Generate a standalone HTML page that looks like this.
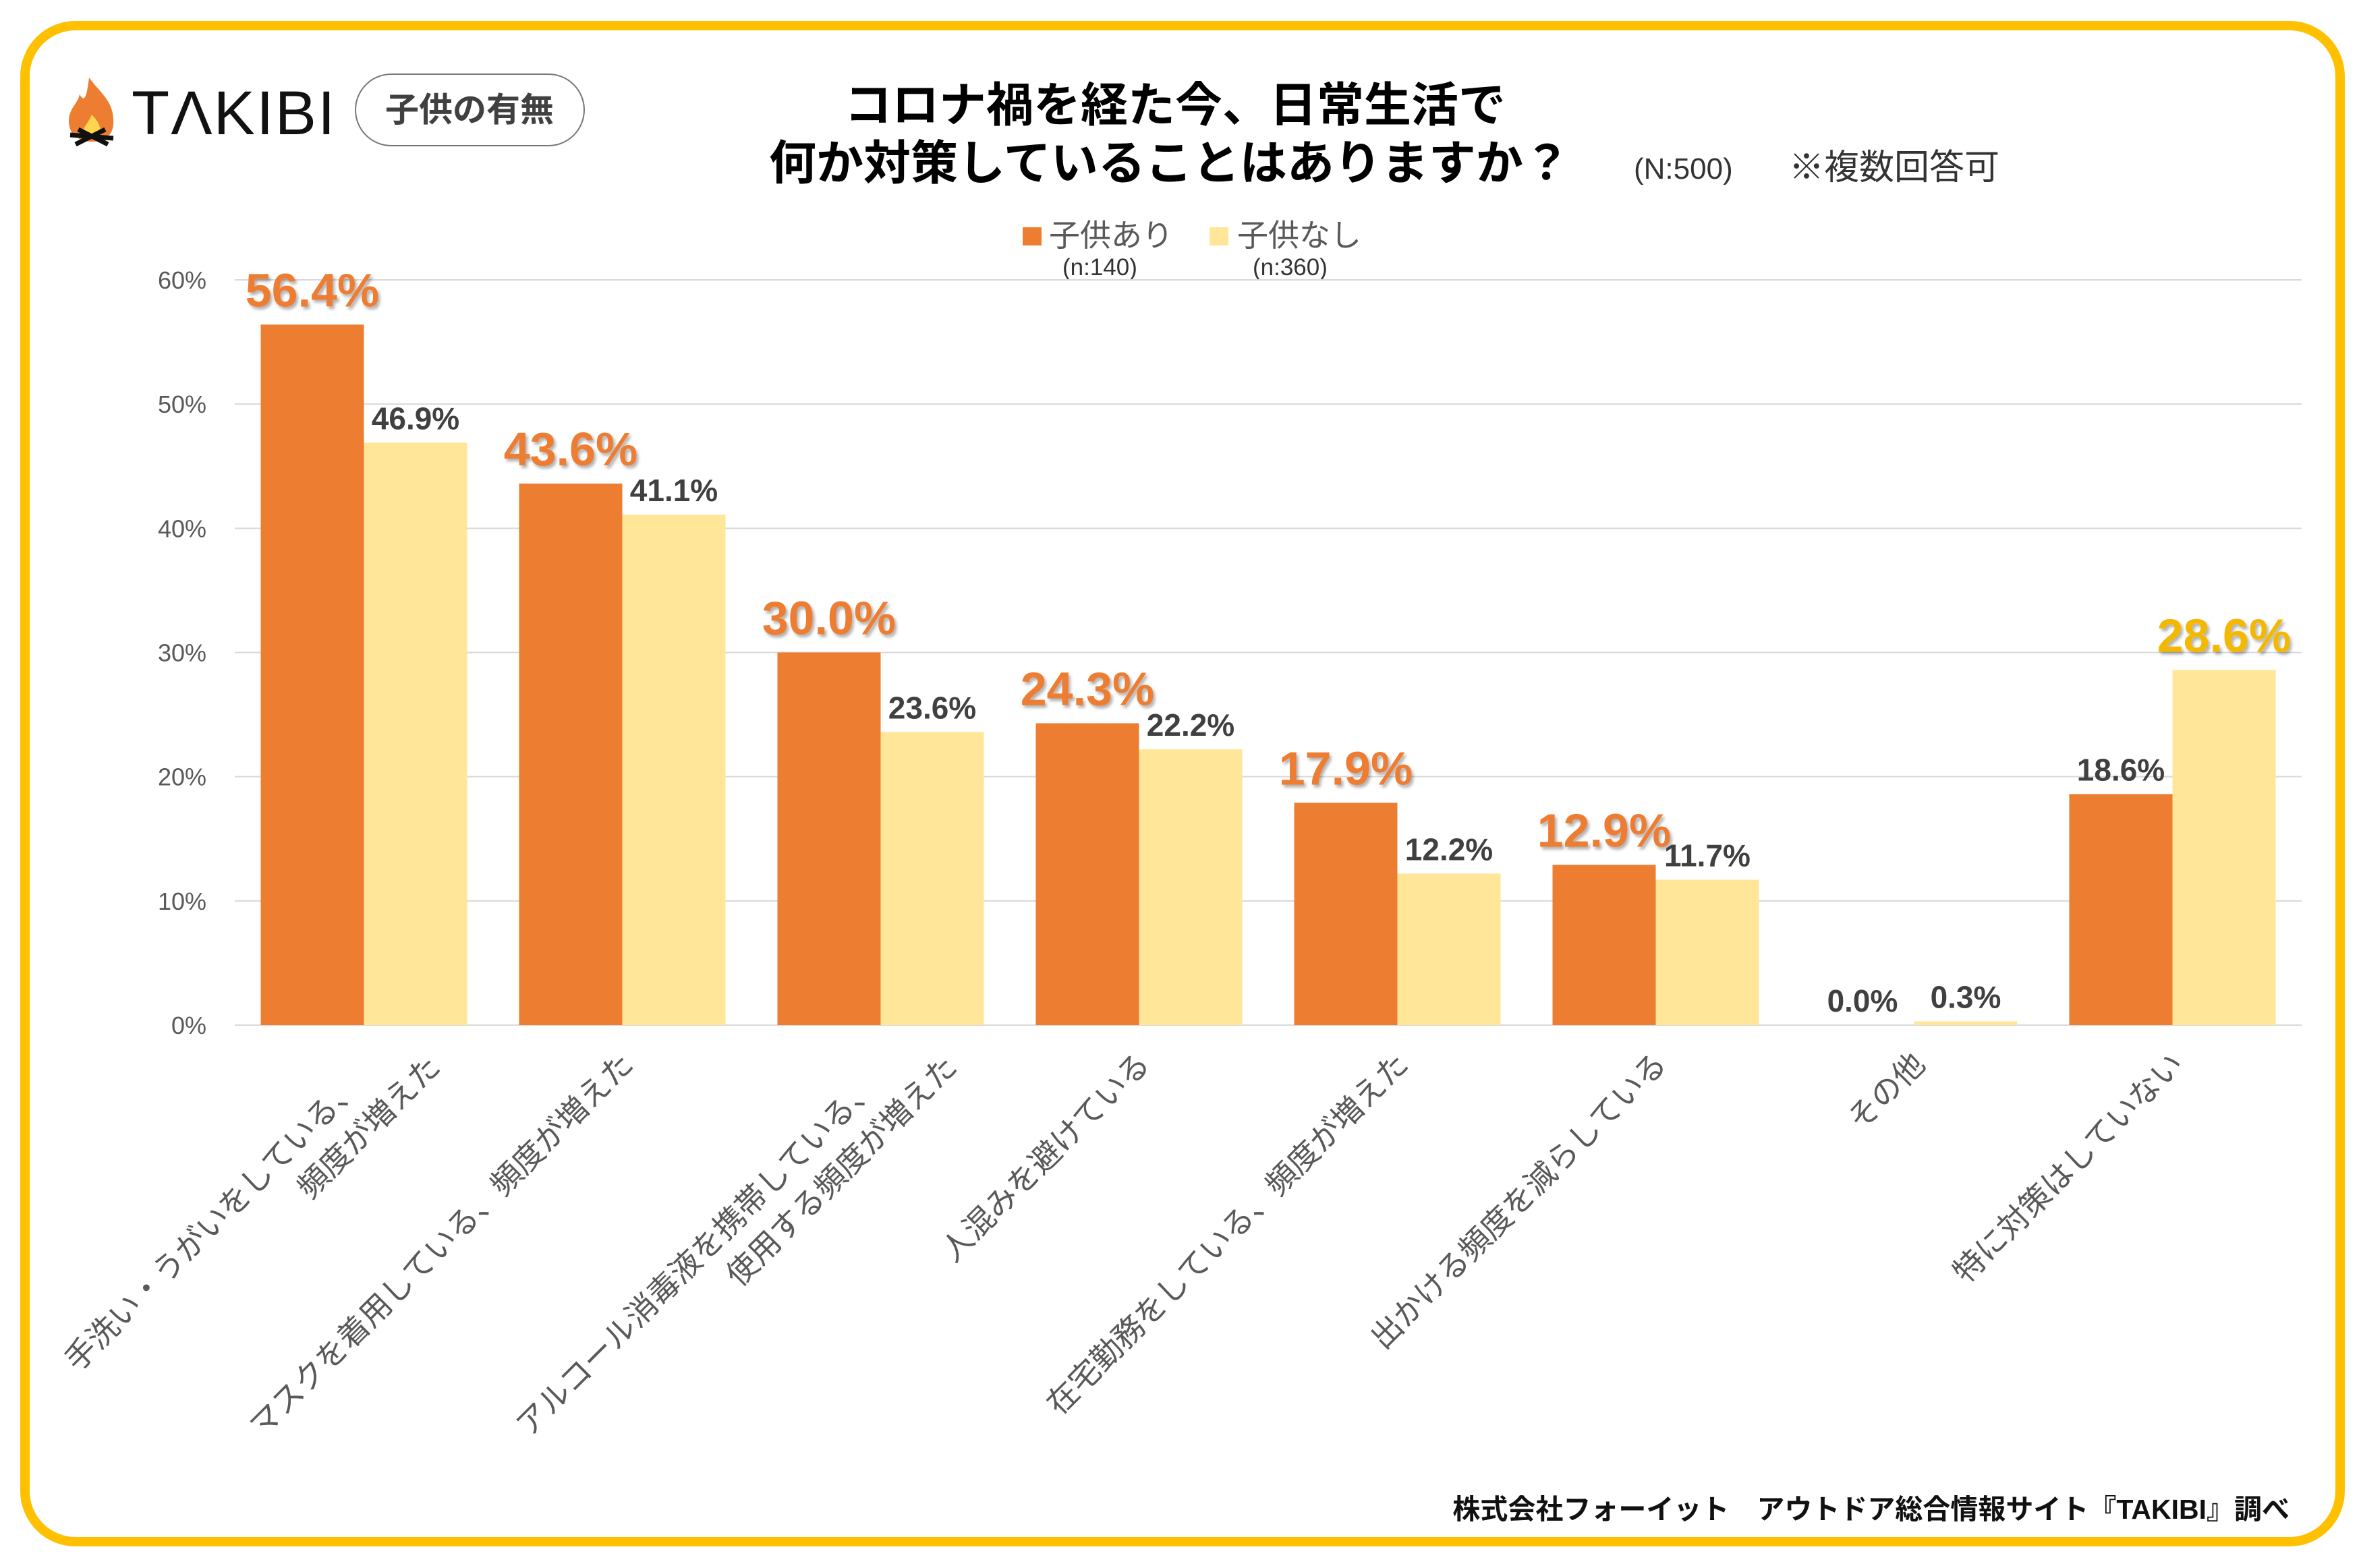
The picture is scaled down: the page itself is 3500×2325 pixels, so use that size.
<!DOCTYPE html>
<html><head><meta charset="utf-8"><style>
html,body{margin:0;padding:0;background:#fff;}
svg{display:block;font-family:"Liberation Sans","Noto Sans CJK JP",sans-serif;}
</style></head><body>
<svg id="chart" width="3500" height="2325" viewBox="0 0 3500 2325" xmlns="http://www.w3.org/2000/svg">
<defs>
<filter id="sh" x="-10%" y="-10%" width="130%" height="140%"><feDropShadow dx="3" dy="4" stdDeviation="2" flood-color="#000" flood-opacity="0.3"/></filter>
</defs>
<rect x="37" y="38" width="3432" height="2248" rx="75" fill="#fff" stroke="#FFC000" stroke-width="14"/>
<g>
<path d="M132 115 C150 140 170 150 168 185 C166 205 150 210 136 210 C118 210 102 200 102 180 C102 160 115 155 118 140 C124 150 128 150 132 115Z" fill="#ED7D31"/>
<path d="M136 170 C146 180 152 190 146 202 C140 208 128 208 124 200 C120 190 130 185 136 170Z" fill="#FFD54F"/>
<path d="M104 200 L168 205 M112 214 L156 192 M160 214 L116 192" stroke="#111" stroke-width="7"/>
<text x="195" y="199" font-size="92" fill="#111" letter-spacing="2">TΛKIBI</text>
</g>
<rect x="527" y="110" width="339" height="106" rx="53" fill="#fff" stroke="#777" stroke-width="2"/>
<text x="696" y="180" font-size="50" font-weight="bold" fill="#404040" text-anchor="middle">子供の有無</text>
<text x="1252" y="180" font-size="70" font-weight="bold" fill="#000">コロナ禍を経た今、日常生活で</text>
<text x="1140" y="266" font-size="70" font-weight="bold" fill="#000">何か対策していることはありますか？</text>
<text x="2422" y="265" font-size="44" fill="#333">(N:500)</text>
<text x="2652" y="266" font-size="52" fill="#333">※複数回答可</text>
<g>
<rect x="1516" y="337" width="28" height="27" fill="#ED7D31"/>
<text x="1555" y="365" font-size="46" fill="#595959">子供あり</text>
<text x="1575" y="408" font-size="35" fill="#333">(n:140)</text>
<rect x="1793" y="337" width="28" height="27" fill="#FFE699"/>
<text x="1834" y="365" font-size="46" fill="#595959">子供なし</text>
<text x="1857" y="408" font-size="35" fill="#333">(n:360)</text>
</g>
<g id="plot"></g>
<text x="3394" y="2252" font-size="41" font-weight="bold" fill="#111" text-anchor="end">株式会社フォーイット　アウトドア総合情報サイト『TAKIBI』調べ</text>
</svg>
<script>
const categories = [
 ["手洗い・うがいをしている、","頻度が増えた"],
 ["マスクを着用している、頻度が増えた"],
 ["アルコール消毒液を携帯している、","使用する頻度が増えた"],
 ["人混みを避けている"],
 ["在宅勤務をしている、頻度が増えた"],
 ["出かける頻度を減らしている"],
 ["その他"],
 ["特に対策はしていない"]
];
const withChildren = [56.4, 43.6, 30.0, 24.3, 17.9, 12.9, 0.0, 18.6];
const withoutChildren = [46.9, 41.1, 23.6, 22.2, 12.2, 11.7, 0.3, 28.6];
const yTicks = [0, 10, 20, 30, 40, 50, 60];

const NS = "http://www.w3.org/2000/svg";
const plot = document.getElementById("plot");
const X0 = 348, X1 = 3412, Y0 = 1520, YTOP = 415, YMAX = 60;
const groupW = (X1 - X0) / categories.length;
const barW = 153;
function yScale(v){ return Y0 - (v / YMAX) * (Y0 - YTOP); }
function xCenter(i){ return X0 + groupW * (i + 0.5); }
function mk(tag, attrs, txt){
  const e = document.createElementNS(NS, tag);
  for (const k in attrs) e.setAttribute(k, attrs[k]);
  if (txt !== undefined) e.textContent = txt;
  plot.appendChild(e);
  return e;
}
yTicks.forEach(t => {
  const y = yScale(t);
  const g = mk("line", {x1: X0, x2: X1, y1: y, y2: y, stroke: "#D9D9D9", "stroke-width": 2});
  
  
  const l = mk("text", {x: 306, y: y + 13, "font-size": 36, fill: "#595959", "text-anchor": "end"}, t + "%");
  
  
});
categories.forEach((cat, i) => {
  const cx = xCenter(i);
  const a = withChildren[i], b = withoutChildren[i];
  const ra = mk("rect", {x: cx - barW, y: yScale(a), width: barW, height: Y0 - yScale(a), fill: "#ED7D31"});
  
  
  const rb = mk("rect", {x: cx, y: yScale(b), width: barW, height: Y0 - yScale(b), fill: "#FFE699"});
  
  
  const aBig = a >= b && a >= 1, bBig = b > a && b >= 1;
  const la = mk("text", {x: cx - barW / 2, y: yScale(a) - (aBig ? 27 : 20), "font-size": aBig ? 70 : 46, "font-weight": "bold", fill: aBig ? "#ED7D31" : "#404040", "text-anchor": "middle"}, a.toFixed(1) + "%");
  if (aBig) la.setAttribute("filter", "url(#sh)");
  
  
  const lb = mk("text", {x: cx + barW / 2, y: yScale(b) - (bBig ? 27 : 20), "font-size": bBig ? 70 : 46, "font-weight": "bold", fill: bBig ? "#F5B800" : "#404040", "text-anchor": "middle"}, b.toFixed(1) + "%");
  if (bBig) lb.setAttribute("filter", "url(#sh)");
  
  
  const anchors = cat.length === 1 ? [[cx - 5, 1557]] : [[cx - 26, 1590], [cx + 92, 1561]];
  cat.forEach((line, j) => {
    const [ax, ay] = anchors[j];
    const t = mk("text", {x: ax, y: ay, "font-size": 46, fill: "#595959", "text-anchor": "end", "dominant-baseline": "hanging", transform: `rotate(-45 ${ax} ${ay})`}, line);
    
    
  });
});
</script>
</body></html>
